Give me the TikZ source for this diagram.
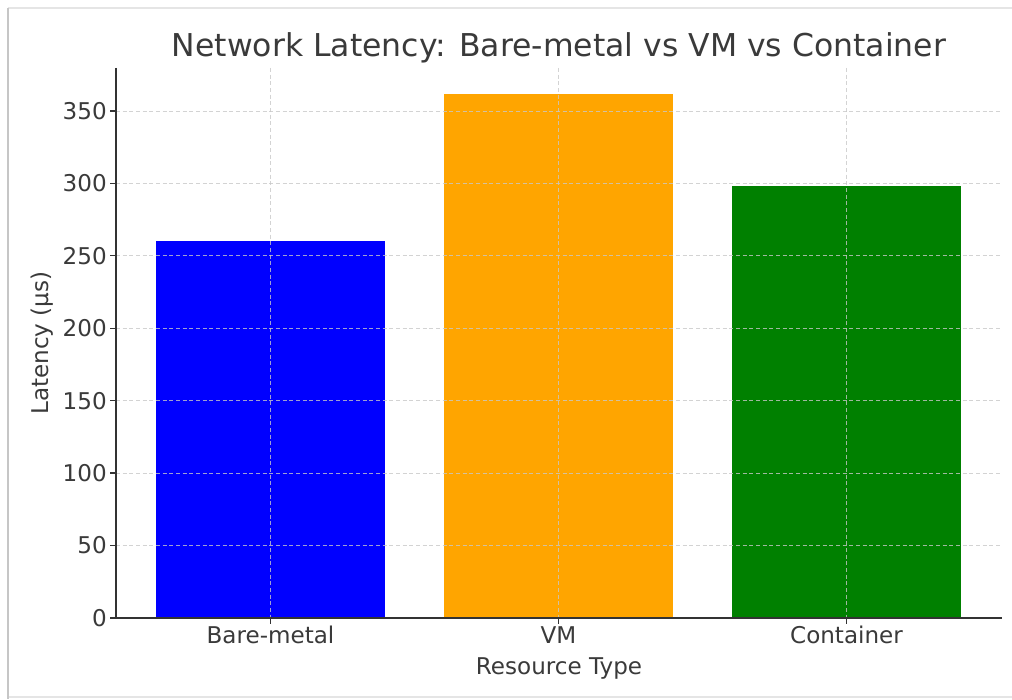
\documentclass[tikz,border=0pt]{standalone}
\usepackage{fontspec}
\setmainfont{DejaVu Sans}
\definecolor{txt}{HTML}{3A3A3A}
\definecolor{spine}{HTML}{333333}
\definecolor{gridc}{HTML}{C8C8C8}
\definecolor{barblue}{HTML}{0000FF}
\definecolor{barorange}{HTML}{FFA500}
\definecolor{bargreen}{HTML}{008000}
\tikzset{
  gridline/.style={draw=gridc, line width=0.5pt, dash pattern=on 3pt off 2pt, opacity=0.8},
  spineline/.style={draw=spine, line width=1.1pt},
  ticklabel/.style={text=txt, font=\fontsize{17.3pt}{20pt}\selectfont, inner sep=0pt},
  axislabel/.style={text=txt, font=\fontsize{17.3pt}{20pt}\selectfont, inner sep=0pt},
  titlelabel/.style={text=txt, font=\fontsize{23.6pt}{28pt}\selectfont, inner sep=0pt}
}
\begin{document}
\begin{tikzpicture}[x=0.75pt,y=-0.75pt]
\useasboundingbox (0,0) rectangle (1012,699);
\fill[white] (0,0) rectangle (1012,699);
% frame / shadow
\draw[gray!20, line width=1.2pt] (8,8) -- (1012,8);
\draw[gray!20, line width=1.2pt] (8,697) -- (1012,697);
\draw[gray!45, line width=2pt] (8,8) -- (8,699);
% bars
\fill[barblue] (156,618) rectangle (385,241.3);
\fill[barorange] (444,618) rectangle (673,93.5);
\fill[bargreen] (732,618) rectangle (961,186.2);
% grid
\foreach \v in {50,100,...,350}{
  \draw[gridline] (116,{618-1.449*\v}) -- (1002,{618-1.449*\v});
}
\foreach \x in {270.5,558.5,846.5}{
  \draw[gridline] (\x,68) -- (\x,618);
}
% spines
\draw[spineline] (116,68) -- (116,618) -- (1002,618);
% y ticks and labels
\foreach \v in {0,50,...,350}{
  \draw[spine, line width=1pt] (110,{618-1.449*\v}) -- (116,{618-1.449*\v});
  \node[ticklabel, anchor=east] (yt\v) at (107,{618-1.449*\v}) {\v};
}
% x ticks and labels
\foreach \x/\n/\t in {270.5/xa/Bare-metal,558.5/xb/VM,846.5/xc/Container}{
  \draw[spine, line width=1pt] (\x,618) -- (\x,624);
  \node[ticklabel, anchor=base] (\n) at (\x,643) {\t};
}
\node[axislabel, anchor=base] (xlabel) at (559,674) {Resource Type};
\node[axislabel, rotate=90] (ylabel) at (42,343) {Latency (µs)};
\node[titlelabel, anchor=base] (title) at (559,57) {Network Latency: Bare-metal vs VM vs Container};
\end{tikzpicture}
\end{document}
